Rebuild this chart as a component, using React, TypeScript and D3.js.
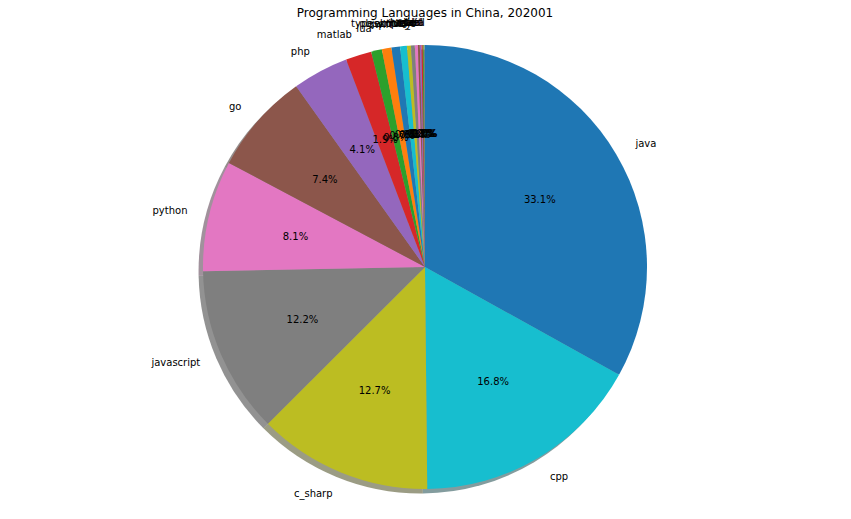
import React from "react";
import * as d3 from "d3";

// ascending order, as plotted (counterclockwise from top)
const languages = [
  "haskell", "julia", "perl", "dart", "scala", "rust", "objective_c", "ruby",
  "kotlin", "typescript", "swift", "r", "lua",
  "matlab", "php", "go", "python", "javascript", "c_sharp", "cpp", "java",
];
const shares = [
  0.04, 0.05, 0.07, 0.09, 0.12, 0.14, 0.22, 0.28,
  0.29, 0.50, 0.62, 0.70, 0.78,
  1.88, 4.08, 7.38, 8.08, 12.18, 12.68, 16.78, 33.08,
];
const palette = [
  "#1f77b4", "#ff7f0e", "#2ca02c", "#d62728", "#9467bd",
  "#8c564b", "#e377c2", "#7f7f7f", "#bcbd22", "#17becf",
];
const title = "Programming Languages in China, 202001";

const W = 851, H = 519;
const CX = 425, CY = 267, R = 222;
const FONT = "'DejaVu Sans', sans-serif";

export default function App() {
  const items = languages.map((name, i) => ({ name, value: shares[i], color: palette[i % 10] }));
  // matplotlib draws counterclockwise from top; in d3 (clockwise) draw reversed list
  const rev = items.slice().reverse();
  const total = d3.sum(shares);
  const pie = d3.pie<any>().sort(null).value((d: any) => d.value).startAngle(0).endAngle(2 * Math.PI);
  const arcs = pie(rev);
  const arc = d3.arc<any>().innerRadius(0).outerRadius(R);
  const off = 0.02 * R;

  const shadowColor = (c: string) => {
    const rgb = d3.rgb(c);
    return d3.rgb(rgb.r * 0.3, rgb.g * 0.3, rgb.b * 0.3).toString();
  };

  return (
    <svg width={W} height={H} style={{ display: "block", margin: "-8px" }} fontFamily={FONT}>
      <rect width={W} height={H} fill="#ffffff" />
      <text x={CX} y={13} textAnchor="middle" dominantBaseline="central" fontSize={12} fill="#000">
        {title}
      </text>
      <g transform={`translate(${CX - off},${CY + off})`}>
        {arcs.map((a, i) => (
          <path key={"s" + i} d={arc(a) as string} fill={shadowColor(a.data.color)} fillOpacity={0.5} />
        ))}
      </g>
      <g transform={`translate(${CX},${CY})`}>
        {arcs.map((a, i) => (
          <path key={"w" + i} d={arc(a) as string} fill={a.data.color} />
        ))}
        {arcs.map((a, i) => {
          const m = (a.startAngle + a.endAngle) / 2;
          const x = 1.1 * R * Math.sin(m);
          const y = -1.1 * R * Math.cos(m);
          return (
            <text key={"l" + i} x={x} y={y} textAnchor={x > 0 ? "start" : "end"}
              dominantBaseline="central" fontSize={10} fill="#000">
              {a.data.name}
            </text>
          );
        })}
        {arcs.map((a, i) => {
          const m = (a.startAngle + a.endAngle) / 2;
          const x = 0.6 * R * Math.sin(m);
          const y = -0.6 * R * Math.cos(m);
          return (
            <text key={"p" + i} x={x} y={y} textAnchor="middle"
              dominantBaseline="central" fontSize={10} fill="#000">
              {((a.data.value / total) * 100).toFixed(1) + "%"}
            </text>
          );
        })}
      </g>
    </svg>
  );
}
